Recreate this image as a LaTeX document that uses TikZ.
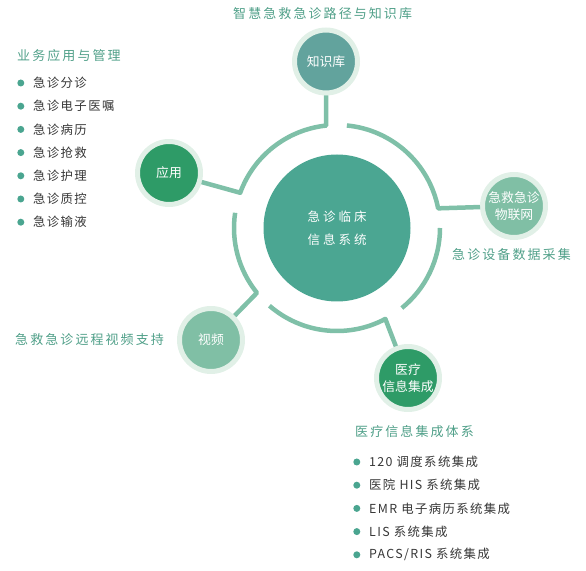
\documentclass[tikz,border=0pt]{standalone}
\usepackage{fontspec}
\setmainfont{Noto Sans CJK SC}
\newfontfamily\headfont[LetterSpace=16]{Noto Sans CJK SC}
\newfontfamily\itemfont[LetterSpace=11]{Noto Sans CJK SC}
\newfontfamily\hubfont[LetterSpace=24]{Noto Sans CJK SC}
\usepackage{tikz}
\usetikzlibrary{positioning}

\definecolor{hubgreen}{HTML}{4BA692}
\definecolor{kbteal}{HTML}{62A39D}
\definecolor{deepgreen}{HTML}{2E9B67}
\definecolor{palegreen}{HTML}{80BFA5}
\definecolor{halo}{HTML}{E1F0E7}
\definecolor{ringgreen}{HTML}{7FC0A8}
\definecolor{headgreen}{HTML}{4F9F88}
\definecolor{itemgray}{HTML}{363636}
\definecolor{dotgreen}{HTML}{4AA590}

\begin{document}
\begin{tikzpicture}[x=1pt, y=1pt,
    hub/.style={circle, fill=hubgreen, minimum size=147pt, inner sep=0pt, align=center, text=white, font=\hubfont\fontsize{12.5}{23}\selectfont},
    sat/.style={circle, draw=halo, line width=5pt, outer sep=2.5pt, minimum size=63pt, inner sep=0pt, align=center, text=white, font=\fontsize{12.8}{17}\selectfont},
    ring/.style={draw=ringgreen, line width=4.5pt, line join=round},
    head/.style={text=headgreen, inner sep=0pt, anchor=west, font=\headfont\fontsize{13}{16}\selectfont},
    dot/.style={circle, fill=dotgreen, minimum size=7pt, inner sep=0pt, xshift=-8.5pt},
    item/.style={text=itemgray, inner sep=0pt, minimum height=22.8pt, font=\itemfont\fontsize{12.4}{14}\selectfont, label={[dot]left:{}}}
  ]
    \useasboundingbox (0,0) rectangle (586,570);

    % hub and satellites
    \node[hub] (hub) at (337,342) {急诊临床\\信息系统};
    \node[sat, fill=kbteal] (kb) at (326,508.5) {知识库};
    \node[sat, fill=deepgreen] (app) at (169,397) {应用};
    \node[sat, fill=palegreen] (vid) at (211,230) {视频};
    \node[sat, fill=deepgreen] (med) at (408,192) {医疗\\信息集成};
    \node[sat, fill=palegreen] (iot) at (514,364) {急救急诊\\物联网};

    % points on the ring
    \coordinate (jkb) at ([shift={(96:103)}]hub.center);
    \coordinate (sB) at ([shift={(171.5:103)}]hub.center);
    \coordinate (sC) at ([shift={(229:103)}]hub.center);
    \coordinate (sD) at ([shift={(309:103)}]hub.center);
    \coordinate (jiot) at ([shift={(11:103)}]hub.center);

    \draw[ring] (kb) -- (jkb) arc[start angle=96, end angle=160, radius=103] -- (app);
    \draw[ring] (sB) arc[start angle=171.5, end angle=219, radius=103] -- (vid);
    \draw[ring] (sC) arc[start angle=229, end angle=298, radius=103] -- (med);
    \draw[ring] (sD) arc[start angle=309, end angle=360, radius=103];
    \draw[ring] (iot) -- (jiot) arc[start angle=11, end angle=84.5, radius=103];

    % headings
    \node[head] (top) at (233,556) {智慧急救急诊路径与知识库};
    \node[head] (biz) at (17,514) {业务应用与管理};
    \node[head] (dev) at (452,315) {急诊设备数据采集};
    \node[head] (tele) at (15,230) {急救急诊远程视频支持};
    \node[head] (integ) at (355,138) {医疗信息集成体系};

    % business list
    \node[item, anchor=west] (l1) at (33,487) {急诊分诊};
    \node[item, anchor=north west] (l2) at (l1.south west) {急诊电子医嘱};
    \node[item, anchor=north west] (l3) at (l2.south west) {急诊病历};
    \node[item, anchor=north west] (l4) at (l3.south west) {急诊抢救};
    \node[item, anchor=north west] (l5) at (l4.south west) {急诊护理};
    \node[item, anchor=north west] (l6) at (l5.south west) {急诊质控};
    \node[item, anchor=north west] (l7) at (l6.south west) {急诊输液};

    % integration list
    \node[item, anchor=west] (r1) at (369,108) {120 调度系统集成};
    \node[item, anchor=north west] (r2) at (r1.south west) {医院 HIS 系统集成};
    \node[item, anchor=north west] (r3) at (r2.south west) {EMR 电子病历系统集成};
    \node[item, anchor=north west] (r4) at (r3.south west) {LIS 系统集成};
    \node[item, anchor=north west] (r5) at (r4.south west) {PACS/RIS 系统集成};
\end{tikzpicture}
\end{document}
